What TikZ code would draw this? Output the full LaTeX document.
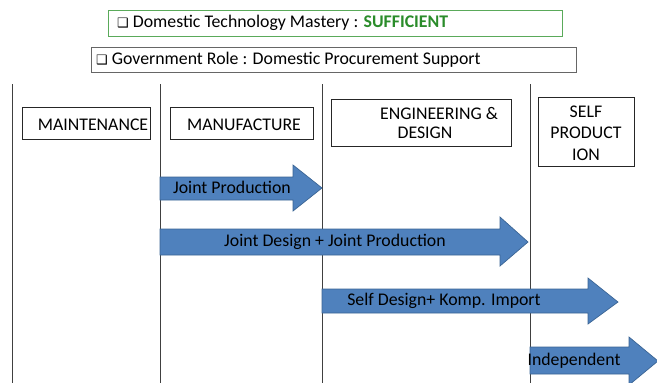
\documentclass[tikz,border=0pt]{standalone}
\usepackage{fontspec}
\setmainfont{Carlito}
\newfontfamily\dv{DejaVu Sans}
\definecolor{arrfill}{HTML}{4F81BD}
\definecolor{arrdraw}{HTML}{3A6494}
\definecolor{okgreen}{HTML}{2A8C2A}
\definecolor{boxgreen}{HTML}{5AAA5A}
\begin{document}
\begin{tikzpicture}[x=1pt,y=-1pt,
  lbl/.style={font=\fontsize{17.8}{21.5}\selectfont, inner sep=0pt, align=center},
  hdr/.style={draw=black!85, line width=0.8pt},
  blockarrow/.style={fill=arrfill, draw=arrdraw, line width=0.7pt},
  divider/.style={draw=black!75, line width=0.8pt}]
\useasboundingbox (0,0) rectangle (657,383);
% header boxes
\draw[draw=boxgreen, line width=0.8pt] (108,10) rectangle (562,36);
\node[lbl, anchor=west] (mastery) at (117,23) {{\dv\fontsize{13}{15}\selectfont ❑} Domestic Technology Mastery : \textcolor{okgreen}{\textbf{SUFFICIENT}}};
\draw[draw=black!60, line width=0.8pt] (91,47) rectangle (576,72);
\node[lbl, anchor=west] (role) at (96,59.5) {{\dv\fontsize{13}{15}\selectfont ❑} Government Role : Domestic Procurement Support};
% dividers
\coordinate (d1t) at (12,84); \coordinate (d1b) at (12,383);
\coordinate (d2t) at (160,84); \coordinate (d2b) at (160,383);
\coordinate (d3t) at (322,84); \coordinate (d3b) at (322,383);
\coordinate (d4t) at (530,84); \coordinate (d4b) at (530,383);
\draw[divider] (d1t) -- (d1b);
\draw[divider] (d2t) -- (d2b);
\draw[divider] (d3t) -- (d3b);
\draw[divider] (d4t) -- (d4b);
% stage boxes
\draw[hdr] (22,107) rectangle (150,139);
\node[lbl] (maint) at (93,125) {MAINTENANCE};
\draw[hdr] (170,107) rectangle (313,139);
\node[lbl] (manuf) at (244,125) {MANUFACTURE};
\draw[hdr] (331,99) rectangle (511,146);
\node[lbl] (eng1) at (439,113) {ENGINEERING \&};
\node[lbl] (eng2) at (425,133) {DESIGN};
\draw[hdr] (538,97) rectangle (634,166);
\node[lbl] (self) at (586,133) {SELF\\PRODUCT\\ION};
% block arrows
\draw[blockarrow] (160,177) -- (293,177) -- (293,165) -- (322,188) -- (293,211) -- (293,200) -- (160,200) -- cycle;
\node[lbl] (a1) at (232,187) {Joint Production};
\draw[blockarrow] (160,229) -- (500,229) -- (500,217) -- (528,242) -- (500,266) -- (500,255) -- (160,255) -- cycle;
\node[lbl] (a2) at (335,242) {Joint Design + Joint Production};
\draw[blockarrow] (322,289) -- (588,289) -- (588,278) -- (618,302) -- (588,324) -- (588,313) -- (322,313) -- cycle;
\node[lbl] (a3) at (444,301) {Self Design+ Komp. Import};
\draw[blockarrow] (530,347) -- (629,347) -- (629,337) -- (658,361) -- (629,385) -- (629,374) -- (530,374) -- cycle;
\node[lbl] (a4) at (574,361) {Independent};
\end{tikzpicture}
\end{document}
